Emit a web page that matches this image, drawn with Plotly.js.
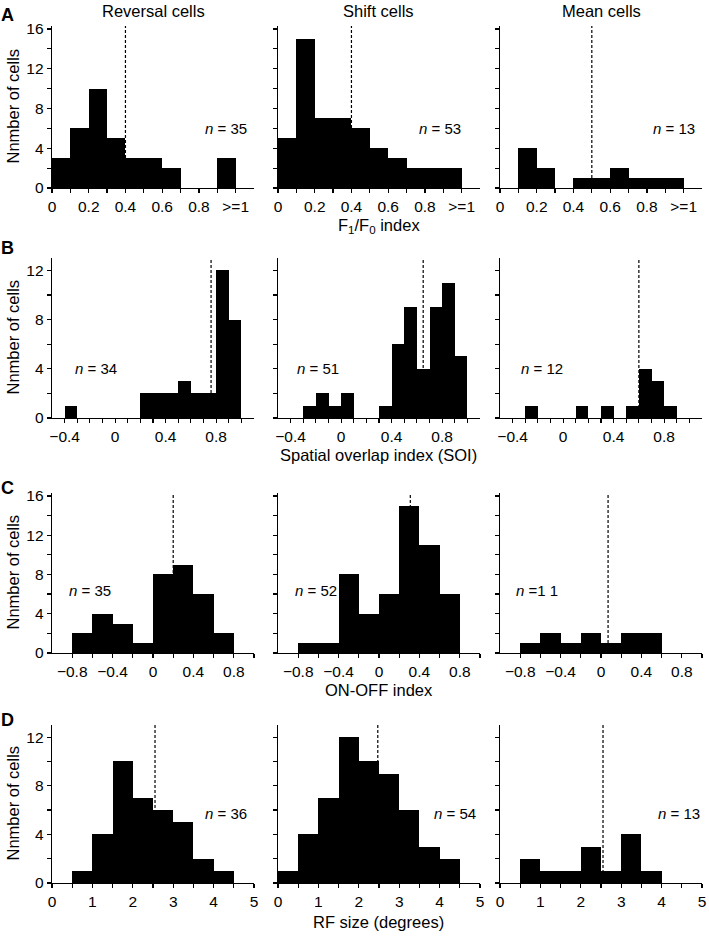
<!DOCTYPE html>
<html>
<head>
<meta charset="utf-8">
<script src="https://cdn.plot.ly/plotly-3.0.1.min.js"></script>
<style>html,body{margin:0;padding:0;background:#fff;}#chart{width:709px;height:936px;}</style>
</head>
<body>
<div id="chart"></div>
<script>
// ---------- DATA ----------
const columnTitles = ["Reversal cells", "Shift cells", "Mean cells"];
const panelLetters = ["A", "B", "C", "D"];
const yAxisTitle = "Nnmber of cells";
const xAxisTitles = ["F<sub>1</sub>/F<sub>0</sub> index", "Spatial overlap index (SOI)", "ON-OFF index", "RF size (degrees)"];

// F1/F0 index (bins of 0.1, last bin = >=1)
const f1f0BinStarts = [0, 0.1, 0.2, 0.3, 0.4, 0.5, 0.6, 0.7, 0.8, 0.9];
const f1f0Reversal = [3, 6, 10, 5, 3, 3, 2, 0, 0, 3];
const f1f0Shift    = [5, 15, 7, 7, 6, 4, 3, 2, 2, 2];
const f1f0Mean     = [0, 4, 2, 0, 1, 1, 2, 1, 1, 1];
const f1f0Medians  = [0.4, 0.4, 0.5];
const f1f0N        = ["= 35", "= 53", "= 13"];
const f1f0TickVals = [0, 0.1, 0.2, 0.3, 0.4, 0.5, 0.6, 0.7, 0.8, 0.9, 1.0];
const f1f0TickText = ["0", "", "0.2", "", "0.4", "", "0.6", "", "0.8", "", ">=1"];

// Spatial overlap index (bins of 0.1)
const soiBinStarts = [-0.5, -0.4, -0.3, -0.2, -0.1, 0, 0.1, 0.2, 0.3, 0.4, 0.5, 0.6, 0.7, 0.8, 0.9];
const soiReversal = [0, 1, 0, 0, 0, 0, 0, 2, 2, 2, 3, 2, 2, 12, 8];
const soiShift    = [0, 0, 1, 2, 1, 2, 0, 0, 1, 6, 9, 4, 9, 11, 5];
const soiMean     = [0, 0, 1, 0, 0, 0, 1, 0, 1, 0, 1, 4, 3, 1, 0];
const soiMedians  = [0.76, 0.65, 0.6];
const soiN        = ["= 34", "= 51", "= 12"];
const soiTickVals = [-0.4, -0.3, -0.2, -0.1, 0, 0.1, 0.2, 0.3, 0.4, 0.5, 0.6, 0.7, 0.8, 0.9, 1.0];
const soiTickText = ["\u22120.4", "", "", "", "0", "", "", "", "0.4", "", "", "", "0.8", "", ""];

// ON-OFF index (bins of 0.2)
const onoffBinStarts = [-1.0, -0.8, -0.6, -0.4, -0.2, 0, 0.2, 0.4, 0.6, 0.8];
const onoffReversal = [0, 2, 4, 3, 1, 8, 9, 6, 2, 0];
const onoffShift    = [0, 1, 1, 8, 4, 6, 15, 11, 6, 0];
const onoffMean     = [0, 1, 2, 1, 2, 1, 2, 2, 0, 0];
const onoffMedians  = [0.2, 0.31, 0.07];
const onoffN        = ["= 35", "= 52", "=1 1"];
const onoffTickVals = [-0.8, -0.6, -0.4, -0.2, 0, 0.2, 0.4, 0.6, 0.8, 1.0];
const onoffTickText = ["\u22120.8", "", "\u22120.4", "", "0", "", "0.4", "", "0.8", ""];

// RF size (bins of 0.5 degrees)
const rfBinStarts = [0, 0.5, 1.0, 1.5, 2.0, 2.5, 3.0, 3.5, 4.0, 4.5];
const rfReversal = [0, 1, 4, 10, 7, 6, 5, 2, 1, 0];
const rfShift    = [1, 4, 7, 12, 10, 9, 6, 3, 2, 0];
const rfMean     = [0, 2, 1, 1, 3, 1, 4, 1, 0, 0];
const rfMedians  = [2.55, 2.47, 2.55];
const rfN        = ["= 36", "= 54", "= 13"];
const rfTickVals = [0, 0.5, 1, 1.5, 2, 2.5, 3, 3.5, 4, 4.5, 5];
const rfTickText = ["0", "", "1", "", "2", "", "3", "", "4", "", "5"];

const yTickVals16 = [0, 2, 4, 6, 8, 10, 12, 14, 16];
const yTickText16 = ["0", "", "4", "", "8", "", "12", "", "16"];
const yTickVals12 = [0, 2, 4, 6, 8, 10, 12];
const yTickText12 = ["0", "", "4", "", "8", "", "12"];

// ---------- LAYOUT / STYLE ----------
const W = 709, H = 936;
const FONT = "Liberation Sans, Arial, Helvetica, sans-serif";
const colPx = [[52, 254], [278, 480], [500, 702]];
const rowPx = [[26, 188], [258, 418], [493, 653], [725, 883]];

// n-label placement: [x fraction of subplot width, y fraction of height, anchor]
const rows = [
  {starts: f1f0BinStarts, bw: 0.1, series: [f1f0Reversal, f1f0Shift, f1f0Mean], med: f1f0Medians, n: f1f0N,
   xr: [0, 1.1], xtv: f1f0TickVals, xtt: f1f0TickText, yr: [0, 16.3], ytv: yTickVals16, ytt: yTickText16,
   nPos: [[0.975, 0.37, "right"], [0.915, 0.37, "right"], [0.975, 0.37, "right"]]},
  {starts: soiBinStarts, bw: 0.1, series: [soiReversal, soiShift, soiMean], med: soiMedians, n: soiN,
   xr: [-0.5, 1.1], xtv: soiTickVals, xtt: soiTickText, yr: [0, 13], ytv: yTickVals12, ytt: yTickText12,
   nPos: [[0.105, 0.31, "left"], [0.085, 0.31, "left"], [0.095, 0.31, "left"]]},
  {starts: onoffBinStarts, bw: 0.2, series: [onoffReversal, onoffShift, onoffMean], med: onoffMedians, n: onoffN,
   xr: [-1.0, 1.0], xtv: onoffTickVals, xtt: onoffTickText, yr: [0, 16.3], ytv: yTickVals16, ytt: yTickText16,
   nPos: [[0.075, 0.39, "left"], [0.075, 0.39, "left"], [0.07, 0.39, "left"]]},
  {starts: rfBinStarts, bw: 0.5, series: [rfReversal, rfShift, rfMean], med: rfMedians, n: rfN,
   xr: [0, 5], xtv: rfTickVals, xtt: rfTickText, yr: [0, 13], ytv: yTickVals12, ytt: yTickText12,
   nPos: [[0.975, 0.44, "right"], [0.99, 0.44, "right"], [1.0, 0.44, "right"]]}
];

const TICKSIZE = 15.5, TITLESIZE = 16.5, NSIZE = 15;
const traces = [];
const shapes = [];
const annotations = [];
const layout = {
  width: W, height: H,
  margin: {l: 0, r: 0, t: 0, b: 0},
  paper_bgcolor: "#fff", plot_bgcolor: "#fff",
  showlegend: false,
  font: {family: FONT, size: TICKSIZE, color: "#000"},
  bargap: 0
};

let k = 0;
rows.forEach((row, ri) => {
  for (let ci = 0; ci < 3; ci++) {
    k++;
    const xs = k === 1 ? "x" : "x" + k;
    const ys = k === 1 ? "y" : "y" + k;
    const xName = k === 1 ? "xaxis" : "xaxis" + k;
    const yName = k === 1 ? "yaxis" : "yaxis" + k;
    traces.push({
      type: "bar",
      x: row.starts.map(s => s + row.bw / 2),
      y: row.series[ci],
      width: row.starts.map(() => row.bw),
      marker: {color: "#000", line: {width: 0}},
      xaxis: xs, yaxis: ys, hoverinfo: "skip"
    });
    layout[xName] = {
      domain: [colPx[ci][0] / W, colPx[ci][1] / W],
      range: row.xr, anchor: ys, fixedrange: true,
      showline: true, linecolor: "#000", linewidth: 1.3, mirror: false,
      showgrid: false, zeroline: false,
      ticks: "outside", ticklen: 4, tickwidth: 1.2, tickcolor: "#000",
      tickmode: "array", tickvals: row.xtv, ticktext: row.xtt, tickangle: 0,
      tickfont: {family: FONT, size: TICKSIZE, color: "#000"}
    };
    layout[yName] = {
      domain: [1 - rowPx[ri][1] / H, 1 - rowPx[ri][0] / H],
      range: row.yr, anchor: xs, fixedrange: true,
      showline: true, linecolor: "#000", linewidth: 1.3,
      showgrid: false, zeroline: false,
      ticks: "outside", ticklen: 4, tickwidth: 1.2, tickcolor: "#000",
      tickmode: "array", tickvals: row.ytv, ticktext: row.ytt, tickangle: 0,
      showticklabels: ci === 0,
      tickfont: {family: FONT, size: TICKSIZE, color: "#000"}
    };
    shapes.push({
      type: "line", xref: xs, yref: ys + " domain",
      x0: row.med[ci], x1: row.med[ci], y0: 0, y1: 1,
      line: {color: "#000", width: 1.2, dash: "3px,2px"}
    });
    annotations.push({
      xref: xs + " domain", yref: ys + " domain",
      x: row.nPos[ci][0], y: row.nPos[ci][1],
      xanchor: row.nPos[ci][2], yanchor: "middle", showarrow: false,
      text: "<i>n</i> " + row.n[ci],
      font: {family: FONT, size: NSIZE, color: "#000"}
    });
  }
});

// Column titles
const colCenters = colPx.map(c => (c[0] + c[1]) / 2);
columnTitles.forEach((t, i) => {
  annotations.push({xref: "paper", yref: "paper", x: colCenters[i] / W, y: 1 - 11 / H,
    xanchor: "center", yanchor: "middle", showarrow: false, text: t,
    font: {family: FONT, size: TITLESIZE, color: "#000"}});
});
// x-axis titles
const xTitleY = [226, 455, 690, 922];
xAxisTitles.forEach((t, i) => {
  annotations.push({xref: "paper", yref: "paper", x: colCenters[1] / W, y: 1 - xTitleY[i] / H,
    xanchor: "center", yanchor: "middle", showarrow: false, text: t,
    font: {family: FONT, size: TITLESIZE, color: "#000"}});
});
// y-axis titles & panel letters
const letterY = [15, 248, 488, 720];
rowPx.forEach((r, i) => {
  annotations.push({xref: "paper", yref: "paper", x: 12.5 / W, y: 1 - ((r[0] + r[1]) / 2 - 1) / H,
    xanchor: "center", yanchor: "middle", showarrow: false, textangle: -90, text: yAxisTitle,
    font: {family: FONT, size: TITLESIZE, color: "#000"}});
  annotations.push({xref: "paper", yref: "paper", x: 7 / W, y: 1 - letterY[i] / H,
    xanchor: "center", yanchor: "middle", showarrow: false, text: "<b>" + panelLetters[i] + "</b>",
    font: {family: FONT, size: 18, color: "#000"}});
});

layout.shapes = shapes;
layout.annotations = annotations;

Plotly.newPlot("chart", traces, layout, {staticPlot: true, displayModeBar: false});
</script>
</body>
</html>
